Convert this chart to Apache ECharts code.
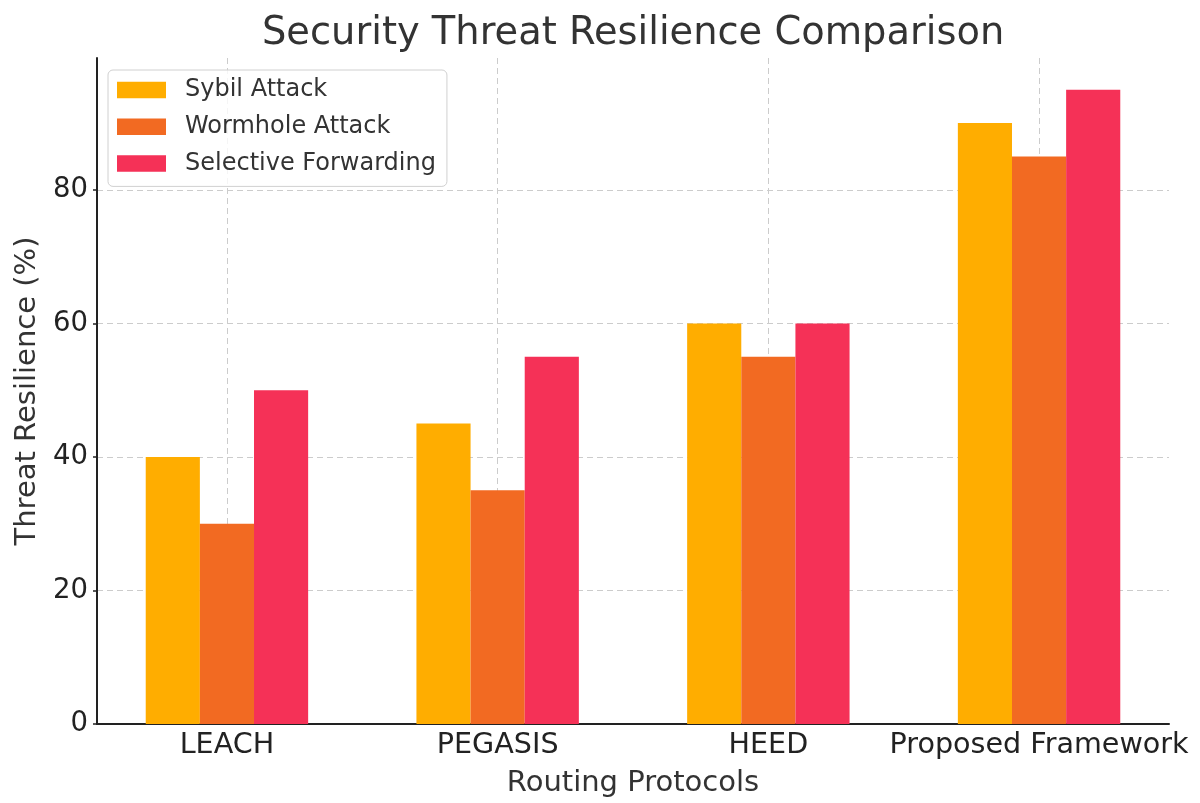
<!DOCTYPE html>
<html>
<head>
<meta charset="utf-8">
<title>Security Threat Resilience Comparison</title>
<script src="https://cdn.jsdelivr.net/npm/echarts@6/dist/echarts.min.js"></script>
<style>
  html, body { margin: 0; padding: 0; background: #fff; }
  #chart { width: 1200px; height: 803px; }
</style>
</head>
<body>
<div id="chart"></div>
<script>
// Routing protocols on the x axis
const protocols = ['LEACH', 'PEGASIS', 'HEED', 'Proposed Framework'];
// Resilience (%) per attack type
const sybil = [40, 45, 60, 90];
const wormhole = [30, 35, 55, 85];
const selective = [50, 55, 60, 95];
const yTicks = [0, 20, 40, 60, 80];

const FONT = 'DejaVu Sans';
const positions = protocols.map((_, i) => i);

function pairs(values) {
  return values.map((v, i) => [i, v]);
}

function barSeries(name, values, color) {
  return {
    name: name,
    type: 'bar',
    data: pairs(values),
    barCategoryGap: '40%',
    barGap: '0%',
    itemStyle: { color: color },
    emphasis: { disabled: true }
  };
}

const chart = echarts.init(document.getElementById('chart'), null, { renderer: 'canvas' });

chart.setOption({
  animation: false,
  backgroundColor: '#ffffff',
  textStyle: { fontFamily: FONT },
  title: {
    text: 'Security Threat Resilience Comparison',
    left: 257,
    top: 10,
    textStyle: { fontFamily: FONT, fontSize: 38.4, fontWeight: 'normal', color: '#333333' }
  },
  legend: {
    orient: 'vertical',
    left: 108,
    top: 70,
    icon: 'rect',
    itemWidth: 49,
    itemHeight: 16.5,
    itemGap: 12.7,
    padding: [8, 11, 11, 9],
    backgroundColor: 'rgba(255,255,255,0.8)',
    borderColor: '#d0d0d0',
    borderWidth: 1,
    borderRadius: 5,
    textStyle: { fontFamily: FONT, fontSize: 24, color: '#333333', padding: [0, 0, 0, 14] },
    data: ['Sybil Attack', 'Wormhole Attack', 'Selective Forwarding']
  },
  grid: { left: 97, right: 31, top: 58, bottom: 78, containLabel: false },
  xAxis: {
    type: 'value',
    min: -0.48,
    max: 3.48,
    name: 'Routing Protocols',
    nameLocation: 'middle',
    nameGap: 45,
    nameTextStyle: { fontFamily: FONT, fontSize: 29, color: '#333333' },
    axisLine: { show: true, onZero: false, lineStyle: { color: '#222222', width: 2 } },
    axisTick: { show: true, inside: true, length: 7, lineStyle: { color: '#222222', width: 1.5 }, customValues: positions },
    axisLabel: {
      customValues: positions,
      formatter: v => protocols[Math.round(v)],
      fontFamily: FONT, fontSize: 28.6, color: '#222222', margin: 7
    },
    splitLine: { show: true, lineStyle: { color: '#cccccc', type: [6, 4], width: 1 } }
  },
  yAxis: {
    type: 'value',
    min: 0,
    max: 99.75,
    name: 'Threat Resilience (%)',
    nameLocation: 'middle',
    nameGap: 55,
    nameTextStyle: { fontFamily: FONT, fontSize: 29, color: '#333333' },
    axisLine: { show: true, onZero: false, lineStyle: { color: '#222222', width: 2 } },
    axisTick: { show: true, inside: false, length: 4, lineStyle: { color: '#222222', width: 1.5 }, customValues: yTicks },
    axisLabel: { customValues: yTicks, fontFamily: FONT, fontSize: 27.5, color: '#222222', margin: 9 },
    splitLine: { show: true, lineStyle: { color: '#cccccc', type: [6, 4], width: 1 } }
  },
  series: [
    barSeries('Sybil Attack', sybil, '#FFAD00'),
    barSeries('Wormhole Attack', wormhole, '#F26A22'),
    barSeries('Selective Forwarding', selective, '#F53157')
  ]
});
</script>
</body>
</html>
